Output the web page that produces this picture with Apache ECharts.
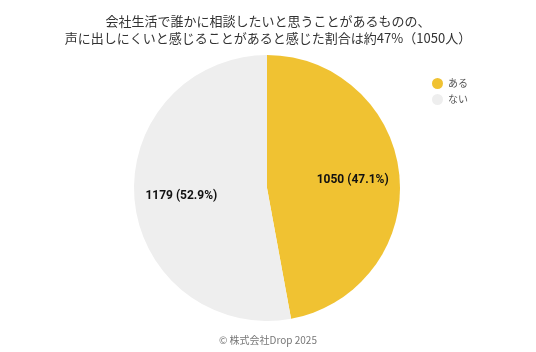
<!DOCTYPE html>
<html>
<head>
<meta charset="utf-8">
<script src="https://cdn.jsdelivr.net/npm/echarts@6/dist/echarts.min.js"></script>
<style>
  html, body { margin: 0; padding: 0; background: #fff; }
  #chart { width: 536px; height: 352px; }
</style>
</head>
<body>
<div id="chart"></div>
<script>
const categories = ["ある", "ない"];
const counts = [1050, 1179];
const percents = ["47.1", "52.9"];
const colors = ["#F0C232", "#EEEEEE"];

const chart = echarts.init(document.getElementById("chart"));

const pieData = categories.map((name, i) => ({ name: name, value: counts[i] }));

chart.setOption({
  animation: false,
  title: [
    {
      text: "会社生活で誰かに相談したいと思うことがあるものの、\n声に出しにくいと感じることがあると感じた割合は約47%（1050人）",
      left: "center",
      top: 8,
      textStyle: {
        fontFamily: "Noto Sans CJK JP",
        fontSize: 13,
        fontWeight: "normal",
        color: "#333",
        lineHeight: 17,
      },
    },
    {
      text: "© 株式会社Drop 2025",
      left: "center",
      top: 330,
      textStyle: {
        fontFamily: "Noto Sans CJK JP",
        fontSize: 10,
        fontWeight: "normal",
        color: "#777",
      },
    },
  ],
  legend: {
    orient: "vertical",
    left: 427,
    top: 73,
    icon: "circle",
    itemWidth: 11,
    itemHeight: 11,
    itemGap: 5,
    textStyle: {
      fontFamily: "Noto Sans CJK JP",
      fontSize: 10,
      color: "#555",
    },
    data: categories,
  },
  series: [
    {
      // visible pie
      type: "pie",
      center: [267, 188],
      radius: [0, 133],
      startAngle: 90,
      clockwise: true,
      color: colors,
      label: { show: false },
      labelLine: { show: false },
      emphasis: { disabled: true },
      data: pieData,
    },
    {
      // label carrier, placed a bit further out than the pie's half radius
      type: "pie",
      center: [267, 188],
      radius: [33, 133],
      startAngle: 90,
      clockwise: true,
      silent: true,
      legendHoverLink: false,
      itemStyle: { color: "transparent" },
      label: {
        show: true,
        position: "inner",
        fontFamily: "Roboto",
        fontWeight: "bold",
        fontSize: 12,
        color: "#111",
        formatter: (p) => counts[p.dataIndex] + " (" + percents[p.dataIndex] + "%)",
      },
      labelLine: { show: false },
      emphasis: { disabled: true },
      data: pieData,
    },
  ],
});
</script>
</body>
</html>
